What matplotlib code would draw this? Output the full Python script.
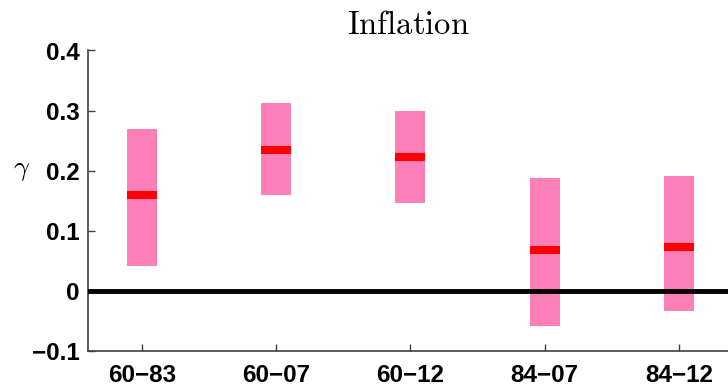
import matplotlib
matplotlib.use("Agg")
import matplotlib.pyplot as plt
from matplotlib.patches import Rectangle

# Sample periods and estimated coefficient (median with band bounds)
periods = ["60\u221283", "60\u221207", "60\u221212", "84\u221207", "84\u221212"]
median = [0.160, 0.235, 0.222, 0.068, 0.0735]
lower = [0.042, 0.159, 0.147, -0.058, -0.034]
upper = [0.270, 0.313, 0.300, 0.188, 0.191]

yticks = [-0.1, 0, 0.1, 0.2, 0.3, 0.4]
ytick_labels = ["\u22120.1", "0", "0.1", "0.2", "0.3", "0.4"]

plt.rcParams["mathtext.fontset"] = "cm"

W, H = 728, 386
fig = plt.figure(figsize=(W / 100, H / 100), dpi=100)
ax = fig.add_axes([88 / W, 1 - 351 / H, 644.6 / W, 300.5 / H])

band_w = 0.223
pink = "#ff80b9"
for i, (lo, hi, m) in enumerate(zip(lower, upper, median)):
    x = i + 1
    ax.add_patch(Rectangle((x - band_w / 2, lo), band_w, hi - lo,
                           facecolor=pink, edgecolor="none", zorder=2))
    ax.hlines(m, x - band_w / 2, x + band_w / 2, colors="#ff0000",
              linewidth=5.8, zorder=3)

ax.axhline(0, color="black", linewidth=3.5, zorder=4)

ax.set_xlim(0.6, 5.4)
ax.set_ylim(-0.1, 0.4)
ax.set_xticks(range(1, len(periods) + 1))
ax.set_xticklabels(periods)
ax.set_yticks(yticks)
ax.set_yticklabels(ytick_labels)

for lab in ax.get_xticklabels() + ax.get_yticklabels():
    lab.set_fontfamily("Liberation Sans")
    lab.set_fontweight("bold")
    lab.set_fontsize(17.5)

ax.tick_params(direction="in", length=5, width=1, color="#404040")
ax.tick_params(axis="y", pad=6)
ax.tick_params(axis="x", pad=9)

for side in ("top", "right"):
    ax.spines[side].set_visible(False)
for side in ("left", "bottom"):
    ax.spines[side].set_color("#404040")
    ax.spines[side].set_linewidth(1.2)

ax.set_ylabel(r"$\gamma$", rotation=0, fontsize=20)
ax.yaxis.set_label_coords(-0.103, 0.56)

fig.text(408 / W, 1 - 33.5 / H, r"$\mathrm{Inflation}$", fontsize=23.5,
         ha="center", va="baseline")

fig.savefig("out.png", dpi=100)
